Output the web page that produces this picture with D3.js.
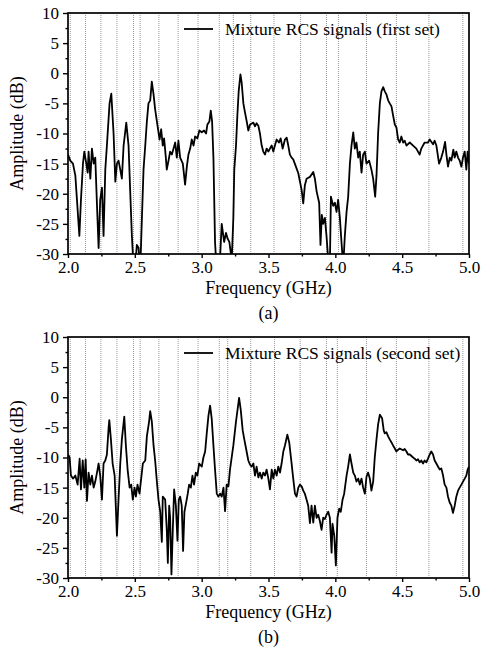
<!DOCTYPE html>
<html>
<head>
<meta charset="utf-8">
<script src="https://cdn.jsdelivr.net/npm/d3@7"></script>
<style>
  body { margin: 0; background: #fff; }
</style>
</head>
<body>
<svg id="drawing_region"></svg>
<script>
// 読み取った値 (GHz, dB)
var freqA = [2.000,2.017,2.037,2.055,2.067,2.085,2.097,2.112,2.122,2.137,2.147,2.154,2.167,2.179,2.192,2.204,2.217,2.229,2.241,2.254,
  2.266,2.279,2.291,2.311,2.324,2.341,2.354,2.366,2.378,2.391,2.403,2.416,2.436,2.453,2.466,2.478,2.490,2.503,2.515,2.528,
  2.540,2.553,2.565,2.578,2.590,2.602,2.615,2.627,2.640,2.652,2.665,2.685,2.697,2.709,2.719,2.732,2.739,2.752,2.764,2.777,
  2.802,2.814,2.826,2.839,2.859,2.876,2.889,2.901,2.914,2.926,2.939,2.951,2.968,2.983,3.001,3.018,3.033,3.043,3.058,3.068,
  3.078,3.088,3.100,3.113,3.138,3.150,3.168,3.182,3.195,3.207,3.225,3.237,3.244,3.257,3.267,3.277,3.290,3.299,3.312,3.324,
  3.337,3.349,3.362,3.387,3.399,3.411,3.424,3.436,3.449,3.461,3.474,3.486,3.499,3.511,3.524,3.536,3.548,3.561,3.578,3.591,
  3.606,3.623,3.636,3.648,3.660,3.673,3.685,3.705,3.723,3.748,3.760,3.772,3.785,3.810,3.835,3.847,3.860,3.879,3.889,3.899,
  3.909,3.922,3.934,3.947,3.959,3.967,3.984,3.997,4.009,4.021,4.034,4.046,4.059,4.071,4.084,4.096,4.109,4.121,4.134,4.146,
  4.158,4.171,4.183,4.196,4.208,4.221,4.233,4.253,4.270,4.283,4.298,4.308,4.320,4.333,4.345,4.358,4.370,4.382,4.395,4.407,
  4.420,4.432,4.445,4.457,4.470,4.482,4.494,4.507,4.519,4.532,4.557,4.582,4.606,4.631,4.643,4.668,4.693,4.706,4.731,4.743,
  4.756,4.776,4.793,4.806,4.821,4.831,4.843,4.856,4.868,4.883,4.893,4.905,4.918,4.930,4.943,4.955,4.968,4.980,4.990,5.000];
var ampA = [-13.5,-14.5,-15,-17,-21,-27,-21,-15,-13,-15,-16.5,-13,-17.5,-12.5,-15,-14,-22,-29,-21,-19,
  -27,-16,-12,-5,-3.4,-10,-18,-15,-14.5,-16,-17.5,-12,-8.2,-12,-20,-27,-32,-32,-28.5,-29,
  -33,-24,-16,-12,-8,-5,-4.5,-1.4,-3.5,-6,-8,-11,-9.3,-12,-10.8,-14,-16,-14.5,-13,-13.5,
  -11.5,-14,-11.2,-14,-15,-18.5,-15.5,-13.5,-12.5,-11,-12,-10.5,-10.8,-9.5,-9.8,-9.5,-10,-8.5,-8,-6.2,
  -8,-14,-28,-33,-30.5,-25,-28,-26.5,-27.5,-28,-31,-24,-16,-12,-7,-3,-0.2,-1.5,-5,-6.5,
  -8,-9.5,-8.5,-8.2,-8.8,-8.3,-8.7,-10,-12,-13,-13.5,-12.5,-13,-12.5,-12,-13,-12,-11,-11.5,-10.8,
  -12.5,-11,-10.7,-12,-13.5,-14,-14.3,-15.5,-16.6,-19.4,-21.6,-18.6,-17.5,-17.2,-16.4,-17.5,-19.6,-21.5,-28.5,-23.5,
  -25,-24,-27,-31,-32,-20.5,-22,-21.5,-23,-21,-24,-28,-32,-27,-23,-20.5,-15,-12,-9.8,-12.5,
  -11.5,-14,-13,-16.5,-13.5,-13,-15,-14.5,-16,-17.5,-20.5,-17,-10,-5,-3,-2.3,-3,-3.5,-4.5,-5,
  -5.5,-7,-8.5,-9,-11,-11.5,-10.5,-11.5,-11.2,-12,-11.5,-12,-12.5,-13.5,-12.5,-11.5,-11.5,-11,-11.8,-11.2,
  -12,-15,-14,-13,-11.4,-13.5,-15.5,-14,-14.5,-12.7,-14,-13,-14,-14.5,-15.5,-14,-13,-16,-13,-15];

var freqB = [2.000,2.012,2.022,2.037,2.055,2.072,2.087,2.097,2.110,2.122,2.132,2.142,2.154,2.167,2.179,2.192,2.204,2.217,2.229,2.241,
  2.254,2.266,2.279,2.291,2.304,2.309,2.321,2.334,2.349,2.354,2.366,2.378,2.391,2.403,2.421,2.433,2.446,2.461,2.473,2.485,
  2.498,2.508,2.520,2.535,2.545,2.560,2.578,2.590,2.607,2.615,2.627,2.640,2.652,2.665,2.677,2.690,2.702,2.709,2.727,2.739,
  2.747,2.757,2.764,2.774,2.784,2.794,2.807,2.819,2.829,2.839,2.851,2.861,2.871,2.884,2.896,2.906,2.919,2.931,2.943,2.956,
  2.968,2.981,3.001,3.013,3.026,3.038,3.051,3.063,3.075,3.088,3.100,3.113,3.125,3.138,3.150,3.163,3.175,3.187,3.200,3.212,
  3.237,3.257,3.280,3.292,3.307,3.319,3.332,3.349,3.362,3.374,3.387,3.399,3.411,3.424,3.436,3.449,3.461,3.474,3.486,3.499,
  3.511,3.524,3.536,3.548,3.561,3.573,3.586,3.598,3.611,3.623,3.641,3.655,3.673,3.685,3.698,3.710,3.723,3.735,3.748,3.760,
  3.772,3.785,3.797,3.810,3.822,3.835,3.847,3.860,3.872,3.884,3.897,3.909,3.922,3.934,3.947,3.959,3.972,3.979,3.992,4.004,
  4.016,4.029,4.041,4.054,4.066,4.084,4.096,4.109,4.121,4.134,4.146,4.158,4.171,4.183,4.196,4.208,4.221,4.233,4.245,4.258,
  4.270,4.283,4.295,4.308,4.320,4.333,4.350,4.362,4.370,4.382,4.395,4.407,4.420,4.432,4.445,4.457,4.470,4.482,4.507,4.519,
  4.532,4.544,4.557,4.582,4.594,4.606,4.619,4.631,4.643,4.656,4.668,4.681,4.693,4.706,4.718,4.731,4.743,4.756,4.768,4.781,
  4.793,4.806,4.818,4.831,4.843,4.856,4.868,4.880,4.893,4.905,4.918,4.930,4.943,4.955,4.968,4.980,4.990,5.000];
var ampB = [-9.5,-10,-13,-13.5,-13,-14.5,-10.2,-15.3,-10.5,-15,-10.3,-17.2,-12.5,-14.5,-13,-15,-14,-12.5,-11,-13,
  -17,-11,-10.5,-9.5,-5,-3.8,-7,-11,-13,-16,-23,-17,-11,-7,-3.2,-8,-12,-15,-14.5,-17,
  -15,-16.5,-14.5,-16,-14,-11,-10.5,-6.5,-4,-2.3,-4,-8,-10.5,-14,-17,-19,-24,-16.5,-17,-22,
  -27.5,-18,-20,-29.4,-22,-15.3,-18,-23.8,-17,-16.5,-18,-25.5,-19,-17.5,-16,-14.5,-15,-13,-14.5,-12.5,
  -13,-11,-11.5,-10,-9,-6,-3,-1.4,-3.5,-8,-12,-16,-16.5,-16,-16.5,-15,-18.9,-14.5,-14.8,-12,
  -8,-4,-0.1,-2,-5.5,-7,-8.5,-10.5,-11.2,-11.5,-11,-13,-11.5,-13.3,-12.5,-13.5,-12.5,-13,-12,-13.5,
  -15.3,-12,-13.5,-12,-13,-11.5,-12.5,-11,-9,-8,-6.2,-7.5,-11,-13.5,-16,-16.5,-15,-14.5,-14.8,-15.5,
  -16,-17,-18,-20.9,-18,-20.8,-18,-20,-19.5,-20.5,-22,-20,-20.2,-19.5,-19,-20,-25.8,-21,-23,-27.9,
  -20,-18.5,-19,-17,-16,-13,-11.5,-9.5,-11,-12.5,-13,-14,-13.5,-14.5,-13.5,-15,-16,-13.2,-12.5,-13.5,
  -15.5,-14,-10,-7,-4.5,-2.9,-3.5,-5.5,-6,-5.8,-6.5,-7,-7.5,-8,-8.5,-9,-8.7,-8.5,-8.8,-8.6,
  -9,-9.5,-9.5,-10,-10.2,-10.5,-10.3,-10.8,-10.5,-11,-10.5,-10.8,-10.2,-9.5,-9,-9.5,-10.5,-11,-11.5,-12,
  -11.8,-13,-14.5,-15,-16.5,-17.5,-18,-19.2,-18,-16.5,-15.5,-15,-14.5,-14,-13.5,-13,-12,-11.5];

// 点線の周波数
var markA = [2.017,2.131,2.246,2.366,2.490,2.540,2.680,2.824,2.973,3.132,3.237,3.367,3.541,3.740,3.934,4.024,4.233,4.457,4.700,4.954];
var markB = [2.017,2.131,2.246,2.366,2.490,2.540,2.680,2.824,2.973,3.132,3.195,3.367,3.545,3.737,3.934,4.015,4.233,4.457,4.700,4.954];

var xTicks = [2.0, 2.5, 3.0, 3.5, 4.0, 4.5, 5.0];
var xMinor = [2.25, 2.75, 3.25, 3.75, 4.25, 4.75];
var yTicks = [-30, -25, -20, -15, -10, -5, 0, 5, 10];
var yMinor = [-27.5, -22.5, -17.5, -12.5, -7.5, -2.5, 2.5, 7.5];

var FONT = "'Liberation Serif', 'DejaVu Serif', serif";

var svg = d3.select('#drawing_region')
  .attr('width', 482)
  .attr('height', 654)
  .style('font-family', FONT);

class SignalChart {
  constructor(config, freq, amp, marks) {
    this.config = config;
    this.data = freq.map((f, i) => ({f: f, a: amp[i]}));
    this.marks = marks;
    this.init();
  }
  init() {
    let self = this;
    let c = self.config;
    self.chart = svg.append('g')
      .attr('transform', `translate(${c.left}, ${c.top})`);
    self.w = c.width;
    self.h = c.height;

    self.xscale = d3.scaleLinear().domain([2, 5]).range([0, self.w]);
    self.yscale = d3.scaleLinear().domain([-30, 10]).range([self.h, 0]);

    self.chart.append('clipPath').attr('id', c.id + '_clip')
      .append('rect').attr('width', self.w).attr('height', self.h);
  }
  render() {
    let self = this;
    let c = self.config;

    // 点線
    self.chart.selectAll('.mark')
      .data(self.marks)
      .enter()
      .append('line')
      .attr('x1', d => self.xscale(d))
      .attr('x2', d => self.xscale(d))
      .attr('y1', 0)
      .attr('y2', self.h)
      .attr('stroke', '#9a9a9a')
      .attr('stroke-width', 1)
      .attr('stroke-dasharray', '1,1');

    let line = d3.line()
      .x(d => self.xscale(d.f))
      .y(d => self.yscale(d.a));

    self.chart.append('path')
      .datum(self.data)
      .attr('clip-path', `url(#${c.id}_clip)`)
      .attr('d', line)
      .attr('fill', 'none')
      .attr('stroke', '#000')
      .attr('stroke-width', 1.8)
      .attr('stroke-linejoin', 'round');

    let xaxis = d3.axisBottom(self.xscale).tickValues(xTicks).tickFormat(d3.format('.1f')).tickSize(4).tickPadding(3);
    let xminor = d3.axisBottom(self.xscale).tickValues(xMinor).tickFormat('').tickSize(2.5);
    let yaxis = d3.axisLeft(self.yscale).tickValues(yTicks).tickFormat(d => d).tickSize(5).tickPadding(4);
    let yminor = d3.axisLeft(self.yscale).tickValues(yMinor).tickFormat('').tickSize(2.5);

    [[xaxis, `translate(0, ${self.h})`], [xminor, `translate(0, ${self.h})`], [yaxis, ''], [yminor, '']]
      .forEach(p => {
        let g = self.chart.append('g').attr('transform', p[1]).call(p[0]);
        g.attr('font-family', FONT).attr('font-size', 17);
        g.select('.domain').remove();
        g.selectAll('line').attr('stroke-width', 1.4);
      });

    self.chart.append('rect')
      .attr('width', self.w)
      .attr('height', self.h)
      .attr('fill', 'none')
      .attr('stroke', '#000')
      .attr('stroke-width', 1.7);

    // 凡例
    self.chart.append('line')
      .attr('x1', 116).attr('x2', 145)
      .attr('y1', 16).attr('y2', 16)
      .attr('stroke', '#000').attr('stroke-width', 1.8);
    self.chart.append('text')
      .attr('x', 157).attr('y', 22)
      .attr('font-size', 17.5)
      .text(c.legend);

    self.chart.append('text')
      .attr('x', self.w / 2).attr('y', self.h + 40)
      .attr('text-anchor', 'middle')
      .attr('font-size', 18)
      .text('Frequency (GHz)');

    self.chart.append('text')
      .attr('transform', `translate(-45, ${self.h / 2}) rotate(-90)`)
      .attr('text-anchor', 'middle')
      .attr('font-size', 18)
      .text('Amplitude (dB)');

    self.chart.append('text')
      .attr('x', self.w / 2).attr('y', self.h + 65)
      .attr('text-anchor', 'middle')
      .attr('font-size', 18)
      .text(c.caption);
  }
}

const chartA = new SignalChart({id: 'a', left: 68, top: 13, width: 401, height: 241,
  legend: 'Mixture RCS signals (first set)', caption: '(a)'}, freqA, ampA, markA);
chartA.render();
const chartB = new SignalChart({id: 'b', left: 68, top: 337, width: 401, height: 241,
  legend: 'Mixture RCS signals (second set)', caption: '(b)'}, freqB, ampB, markB);
chartB.render();
</script>
</body>
</html>
